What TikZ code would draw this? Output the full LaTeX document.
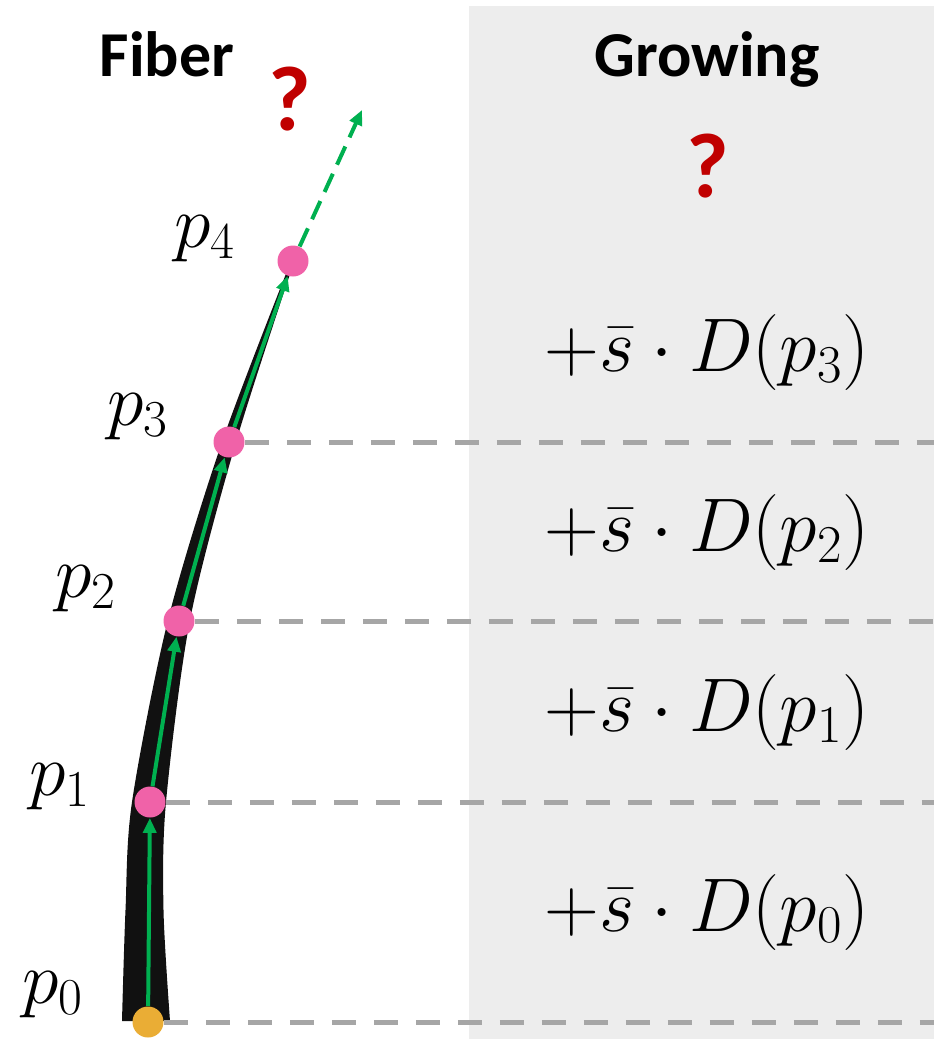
\RequirePackage{fix-cm}
\documentclass[tikz,border=0pt]{standalone}
\usepackage{fontspec}
\newfontfamily\calfont{Carlito}
\usetikzlibrary{arrows.meta}
\definecolor{panelgray}{HTML}{EDEDED}
\definecolor{fiberblack}{HTML}{111111}
\definecolor{dashgray}{HTML}{A6A6A6}
\definecolor{flowgreen}{HTML}{00B050}
\definecolor{ptpink}{HTML}{F062A8}
\definecolor{seedorange}{HTML}{EAAD35}
\definecolor{askred}{HTML}{C00000}

\begin{document}
\begin{tikzpicture}[
  x=0.5pt, y=-0.5pt,
  >={Triangle[length=7.5pt, width=6.5pt]},
  ptdot/.style={circle, inner sep=0pt, minimum size=15.5pt},
  guide/.style={draw=dashgray, line width=2.5pt, dash pattern=on 12pt off 9pt},
  flow/.style={->, draw=flowgreen, line width=2pt},
  title/.style={anchor=base, font=\calfont\bfseries\fontsize{32}{38}\selectfont},
  quest/.style={anchor=base, text=askred, font=\calfont\bfseries\fontsize{46}{52}\selectfont},
  plbl/.style={anchor=base west, font=\fontsize{37}{42}\selectfont},
  growlbl/.style={anchor=center, font=\fontsize{38}{44}\selectfont}
]
\useasboundingbox (0,0) rectangle (934,1039);

% ── Growing panel ──
\fill[panelgray] (469,6) rectangle (934,1039);

% ── Fiber body, tapering to the tip ──
\fill[fiberblack]
  plot[smooth] coordinates {(122,1021) (125.5,910) (132,802) (168,620) (222,442) (291,261)}
  -- plot[smooth] coordinates {(295,259) (236,442) (190,620) (166,802) (163.5,910) (170,1021)}
  -- cycle;

% ── Points along the fiber ──
\node[ptdot, fill=seedorange] (p0) at (148,1022) {};
\node[ptdot, fill=ptpink] (p1) at (150,802) {};
\node[ptdot, fill=ptpink] (p2) at (179,621) {};
\node[ptdot, fill=ptpink] (p3) at (229,442) {};
\node[ptdot, fill=ptpink] (p4) at (293,261) {};
\coordinate (redge) at (934,0);
\coordinate (nexttip) at (362,110);

% ── Step levels ──
\foreach \i in {0,...,3}
  \draw[guide] (p\i) -- (p\i -| redge);

% ── Tracking steps ──
\draw[flow] (p0) -- (p1);
\draw[flow] (p1) -- (p2);
\draw[flow] (p2) -- (p3);
\draw[flow] (p3) -- (p4);
\draw[flow, dash pattern=on 10pt off 5pt] (p4) -- (nexttip);

% ── Point labels ──
\node[plbl] (l0) at (15,1003) {$p_0$};
\node[plbl] (l1) at (22,795) {$p_1$};
\node[plbl] (l2) at (48,597) {$p_2$};
\node[plbl] (l3) at (100,425) {$p_3$};
\node[plbl] (l4) at (167,247) {$p_4$};

% ── Growth terms ──
\foreach \i/\yc in {0/912, 1/712, 2/532, 3/352}
  \node[growlbl] (g\i) at (707,\yc) {$+\bar{s}\cdot D(p_{\i})$};

% ── Titles and open questions ──
\node[title] (fibtitle) at (167,76) {Fiber};
\node[title] (growtitle) at (707,76) {Growing};
\node[quest] (qfib) at (290,130) {?};
\node[quest] (qgrow) at (708,197) {?};

\end{tikzpicture}
\end{document}
